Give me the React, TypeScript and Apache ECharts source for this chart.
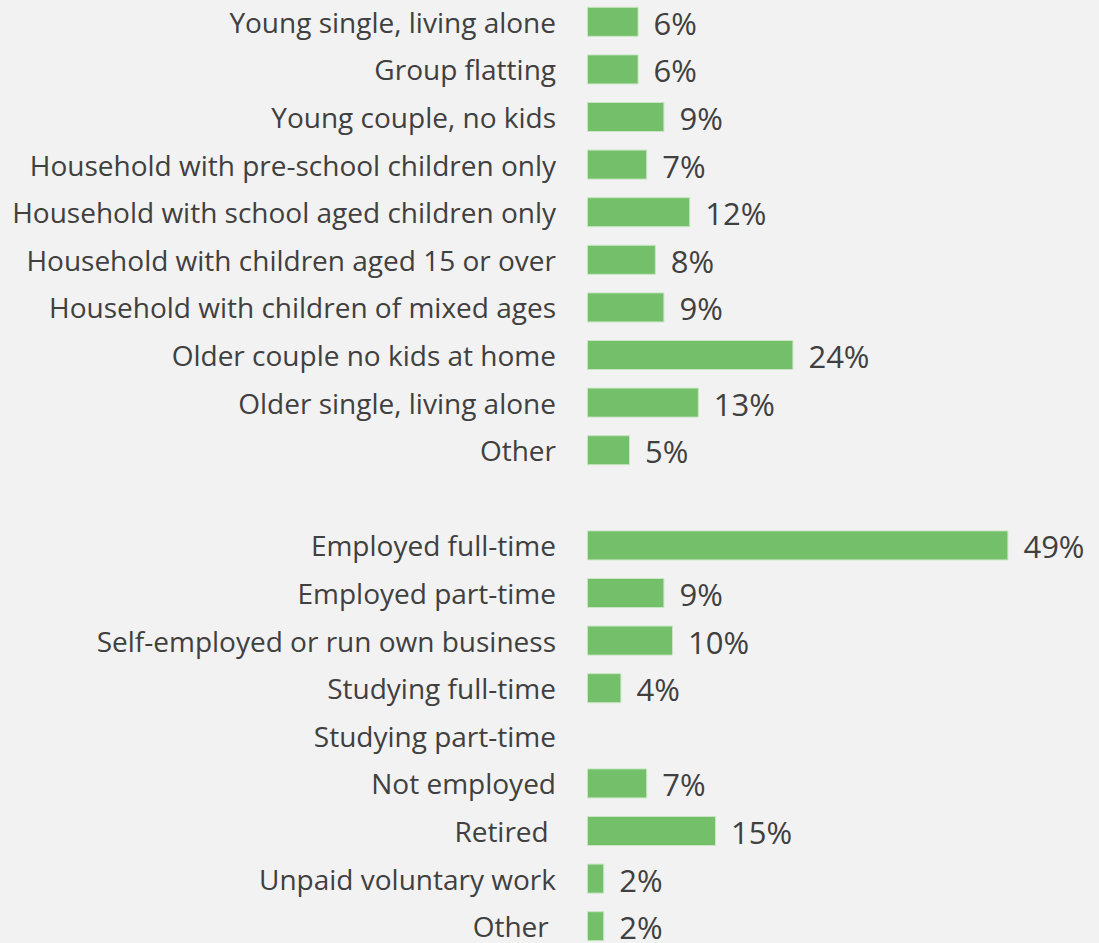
import React, { useEffect, useRef } from "react";
import * as echarts from "echarts";

const categories: string[] = [
  "Young single, living alone",
  "Group flatting",
  "Young couple, no kids",
  "Household with pre-school children only",
  "Household with school aged children only",
  "Household with children aged 15 or over",
  "Household with children of mixed ages",
  "Older couple no kids at home",
  "Older single, living alone",
  "Other",
  "",
  "Employed full-time",
  "Employed part-time",
  "Self-employed or run own business",
  "Studying full-time",
  "Studying part-time",
  "Not employed",
  "Retired ",
  "Unpaid voluntary work",
  "Other ",
];

const values: (number | null)[] = [
  6, 6, 9, 7, 12, 8, 9, 24, 13, 5,
  null,
  49, 9, 10, 4, null, 7, 15, 2, 2,
];

export default function App() {
  const ref = useRef<HTMLDivElement>(null);
  useEffect(() => {
    if (!ref.current) return;
    const chart = echarts.init(ref.current, undefined, { renderer: "svg" });
    chart.setOption({
      animation: false,
      backgroundColor: "#f2f2f2",
      grid: {
        left: 587,
        width: 430,
        top: -2,
        height: 952,
        containLabel: false,
        outerBoundsMode: "none",
      },
      xAxis: {
        type: "value",
        min: 0,
        max: 50,
        show: false,
      },
      yAxis: {
        type: "category",
        data: categories,
        inverse: true,
        axisLine: { show: false },
        axisTick: { show: false },
        axisLabel: {
          margin: 31,
          fontSize: 28,
          lineHeight: 28,
          color: "#404040",
          fontFamily: "Open Sans",
        },
      },
      series: [
        {
          type: "bar",
          data: values,
          barWidth: 30,
          itemStyle: { color: "#74bf6a", borderColor: "#c8e6c2", borderWidth: 1 },
          label: {
            show: true,
            position: "right",
            distance: 15,
            offset: [0, 1],
            fontSize: 31,
            lineHeight: 30,
            color: "#404040",
            fontFamily: "Open Sans",
            formatter: (p: any) => (p.value == null ? "" : p.value + "%"),
          },
        },
      ],
    });
    return () => chart.dispose();
  }, []);
  return (
    <div
      ref={ref}
      style={{ width: 1099, height: 943, position: "absolute", left: 0, top: 0 }}
    />
  );
}
